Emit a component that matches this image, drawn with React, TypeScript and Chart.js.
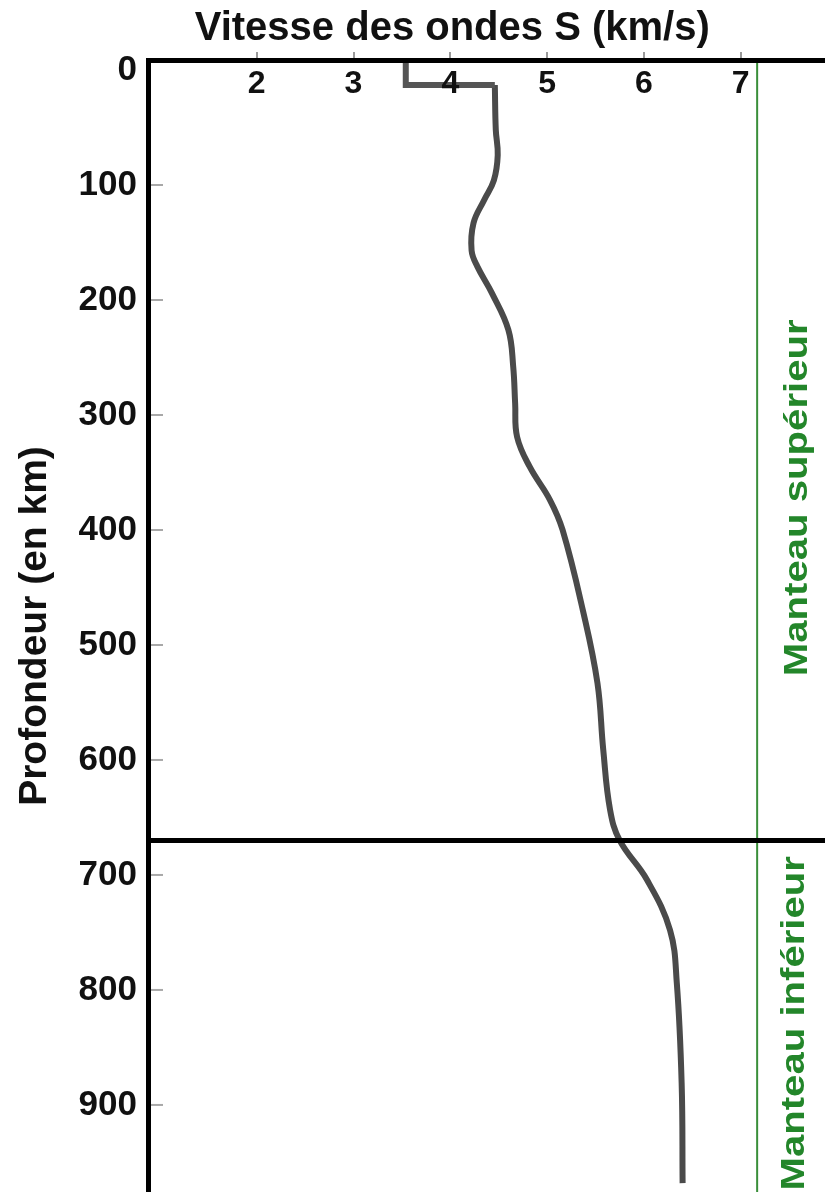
import React, { useEffect, useRef } from 'react';
import { Chart, registerables } from 'chart.js';

Chart.register(...registerables);

// ---- Data ----
const X_TITLE = 'Vitesse des ondes S (km/s)';
const Y_TITLE = 'Profondeur (en km)';
const X_TICKS = [2, 3, 4, 5, 6, 7];
const Y_TICKS = [0, 100, 200, 300, 400, 500, 600, 700, 800, 900];
const X_MIN = 0.877;
const X_MAX = 7.871;
const Y_MIN = -8.7;
const Y_MAX = 975.7;

// crust step near the surface
const STEP_VELOCITY = [3.54, 3.54, 4.46];
const STEP_DEPTH = [-8.7, 13, 13];

// mantle S-wave velocity profile
const CURVE_VELOCITY = [4.46, 4.47, 4.49, 4.45, 4.35, 4.24, 4.22, 4.28, 4.43, 4.60, 4.65, 4.67, 4.69, 4.82, 5.03, 5.16, 5.37, 5.52, 5.58, 5.65, 5.75, 6.03, 6.27, 6.34, 6.39, 6.40];
const CURVE_DEPTH = [13, 52, 74, 96, 113, 133, 157, 171, 194, 226, 258, 290, 319, 345, 374, 400, 470, 533, 591, 643, 670, 704, 748, 794, 881, 968];

const BOUNDARY_DEPTH = 670; // upper / lower mantle boundary
const LIMIT_VELOCITY = 7.17; // green vertical separator
const MANTLE_LABELS = ['Manteau supérieur', 'Manteau inférieur'];

const FONT = '"Liberation Sans", Arial, Helvetica, sans-serif';
const GREEN = '#23862a';

const overlayPlugin = {
  id: 'overlayText',
  afterDraw(chart: any, _args: any, opts: any) {
    const { ctx } = chart;
    const xs = chart.scales.x;
    const ys = chart.scales.y;
    ctx.save();
    // small inner tick marks on the depth axis
    ctx.strokeStyle = '#a8a8a8';
    ctx.lineWidth = 2;
    for (const v of Y_TICKS) {
      if (v === 0) continue;
      const py = ys.getPixelForValue(v);
      ctx.beginPath();
      ctx.moveTo(ys.right + 3, py);
      ctx.lineTo(ys.right + 15, py);
      ctx.stroke();
    }
    // top title
    ctx.fillStyle = '#111';
    ctx.font = `bold ${opts.titleSize}px ${FONT}`;
    ctx.textAlign = 'center';
    ctx.textBaseline = 'alphabetic';
    ctx.fillText(X_TITLE, xs.getPixelForValue(opts.titleValue), xs.top + opts.titleBaseline);
    // mantle labels
    ctx.fillStyle = GREEN;
    ctx.font = `bold ${opts.labelSize}px ${FONT}`;
    ctx.textBaseline = 'middle';
    MANTLE_LABELS.forEach((text, i) => {
      ctx.save();
      ctx.translate(xs.getPixelForValue(LIMIT_VELOCITY) + opts.labelOffsets[i], ys.getPixelForValue(opts.labelDepths[i]));
      ctx.rotate(-Math.PI / 2);
      ctx.scale(opts.labelStretch, 1);
      ctx.fillText(text, 0, 0);
      ctx.restore();
    });
    ctx.restore();
  },
};

export default function App() {
  const ref = useRef<HTMLCanvasElement>(null);

  useEffect(() => {
    if (!ref.current) return;
    Chart.defaults.font.family = FONT;
    const chart = new Chart(ref.current, {
      type: 'scatter',
      data: {
        datasets: [
          {
            label: 'Limite',
            data: [
              { x: X_MIN, y: BOUNDARY_DEPTH },
              { x: X_MAX, y: BOUNDARY_DEPTH },
            ],
            showLine: true,
            borderColor: '#000',
            borderWidth: 5,
            pointRadius: 0,
          },
          {
            label: 'Croûte',
            data: STEP_VELOCITY.map((v, i) => ({ x: v, y: STEP_DEPTH[i] })),
            showLine: true,
            borderColor: '#555',
            borderWidth: 6,
            pointRadius: 0,
            tension: 0,
          },
          {
            label: 'Vs',
            data: CURVE_VELOCITY.map((v, i) => ({ x: v, y: CURVE_DEPTH[i] })),
            showLine: true,
            borderColor: '#4a4a4a',
            borderWidth: 6,
            pointRadius: 0,
            tension: 0.4,
          },
          {
            label: 'Séparation',
            data: [
              { x: LIMIT_VELOCITY, y: Y_MIN },
              { x: LIMIT_VELOCITY, y: Y_MAX },
            ],
            showLine: true,
            borderColor: '#3a8f3a',
            borderWidth: 2,
            pointRadius: 0,
          },
        ],
      },
      options: {
        animation: false,
        responsive: false,
        layout: { padding: 0 },
        plugins: {
          legend: { display: false },
          tooltip: { enabled: false },
          title: { display: false },
          overlayText: {
            titleValue: 4.02,
            titleBaseline: 40,
            titleSize: 40,
            labelSize: 34,
            labelStretch: 1.18,
            labelOffsets: [40, 37],
            labelDepths: [372, 829],
          },
        } as any,
        scales: {
          x: {
            type: 'linear',
            position: 'top',
            min: X_MIN,
            max: X_MAX,
            afterBuildTicks: (s: any) => {
              s.ticks = X_TICKS.map((v) => ({ value: v }));
            },
            afterFit: (s: any) => {
              s.height = 60;
              s.paddingLeft = 0;
              s.paddingRight = 0;
              s.paddingTop = 0;
              s.paddingBottom = 0;
            },
            ticks: {
              mirror: true,
              padding: 5,
              z: 1,
              color: '#111',
              font: { size: 32, weight: 'bold' },
            },
            grid: {
              drawOnChartArea: false,
              drawTicks: true,
              tickLength: 8,
              color: '#9a9a9a',
              lineWidth: 2,
            },
            border: { display: true, color: '#000', width: 5, z: 1 },
            title: { display: false },
          },
          y: {
            type: 'linear',
            position: 'left',
            reverse: true,
            min: Y_MIN,
            max: Y_MAX,
            afterBuildTicks: (s: any) => {
              s.ticks = Y_TICKS.map((v) => ({ value: v }));
            },
            afterFit: (s: any) => {
              s.width = 148;
              s.paddingLeft = 0;
              s.paddingRight = 0;
              s.paddingTop = 0;
              s.paddingBottom = 0;
            },
            ticks: {
              padding: 11,
              color: '#111',
              font: { size: 35, weight: 'bold' },
            },
            grid: { display: false, drawTicks: false },
            border: { display: true, color: '#000', width: 5, z: 1 },
            title: {
              display: true,
              text: Y_TITLE,
              color: '#111',
              font: { size: 39, weight: 'bold' },
              padding: { top: 12, bottom: 0 },
            },
          },
        },
      } as any,
      plugins: [overlayPlugin],
    } as any);
    return () => chart.destroy();
  }, []);

  return (
    <div style={{ position: 'absolute', left: 0, top: 0, width: 825, height: 1192, background: '#fff' }}>
      <canvas ref={ref} width={825} height={1192} style={{ display: 'block' }} />
    </div>
  );
}
